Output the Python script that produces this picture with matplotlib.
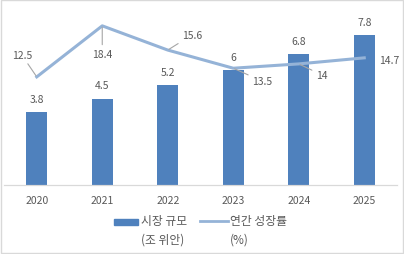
import matplotlib.pyplot as plt
from matplotlib.patches import Rectangle
from matplotlib.lines import Line2D

plt.rcParams['font.family'] = ['Noto Sans CJK KR', 'DejaVu Sans']

# data
years = ['2020', '2021', '2022', '2023', '2024', '2025']
market_size = [3.8, 4.5, 5.2, 6, 6.8, 7.8]          # 조 위안
growth_rate = [12.5, 18.4, 15.6, 13.5, 14, 14.7]    # %
legend_labels = [('시장 규모', '(조 위안)'), ('연간 성장률', '(%)')]

# label offsets for the growth rate labels (pixels)
rate_offsets = [(-15, 22), (0, -28), (24, 15), (29, -13), (23, -11), (25, -2)]
rate_leaders = [True, True, True, True, True, False]

bar_color = '#4F81BD'
line_color = '#95B3D7'
text_color = '#595959'

W, H = 404, 255
fig = plt.figure(figsize=(W / 100, H / 100), dpi=100)
ax = fig.add_axes([4 / W, 1 - 186 / H, 393 / W, 173 / H])
ax2 = ax.twinx()

x = list(range(len(years)))
ax.bar(x, market_size, width=0.32, color=bar_color, zorder=2)
ax.set_ylim(0, 9)
ax.set_xlim(-0.5, 5.5)
for xi, v in zip(x, market_size):
    ax.annotate(f'{v:g}', (xi, v), xytext=(0, 8), textcoords='offset pixels',
                ha='center', va='bottom', fontsize=7.5, color=text_color)

ax2.plot(x, growth_rate, color=line_color, linewidth=2.2, zorder=3)
ax2.set_ylim(0, 20)
for xi, v, off, lead in zip(x, growth_rate, rate_offsets, rate_leaders):
    ax2.annotate(f'{v:g}', (xi, v), xytext=off, textcoords='offset pixels',
                 ha='center', va='center', fontsize=7.5, color=text_color,
                 arrowprops=dict(arrowstyle='-', color='#A6A6A6', lw=0.8,
                                 shrinkA=1, shrinkB=1) if lead else None)

ax.set_xticks(x)
ax.set_xticklabels(years)
ax.tick_params(axis='x', length=0, pad=7, labelsize=7.5, labelcolor=text_color)
ax.set_yticks([])
ax2.set_yticks([])
for a in (ax, ax2):
    for s in ['top', 'left', 'right']:
        a.spines[s].set_visible(False)
    a.spines['bottom'].set_color('#D9D9D9')
    a.patch.set_visible(False)

# legend (drawn by hand so the two-line labels sit like the original)
fig.patches.append(Rectangle((114 / W, 1 - 226 / H), 24 / W, 6 / H, transform=fig.transFigure,
                             color=bar_color))
fig.lines.append(Line2D([200 / W, 228 / W], [1 - 222 / H] * 2, transform=fig.transFigure,
                        color=line_color, linewidth=2))
for lx, (l1, l2) in zip([141, 230], legend_labels):
    fig.text(lx / W, 1 - 222 / H, l1, fontsize=8.5, color=text_color, va='center', ha='left')
    fig.text(lx / W, 1 - 240 / H, l2, fontsize=8.5, color=text_color, va='center', ha='left')

fig.patches.append(Rectangle((0.002, 0.004), 0.996, 0.992, transform=fig.transFigure,
                             fill=False, edgecolor='#D9D9D9', linewidth=1))

fig.savefig('out.png', dpi=100)
